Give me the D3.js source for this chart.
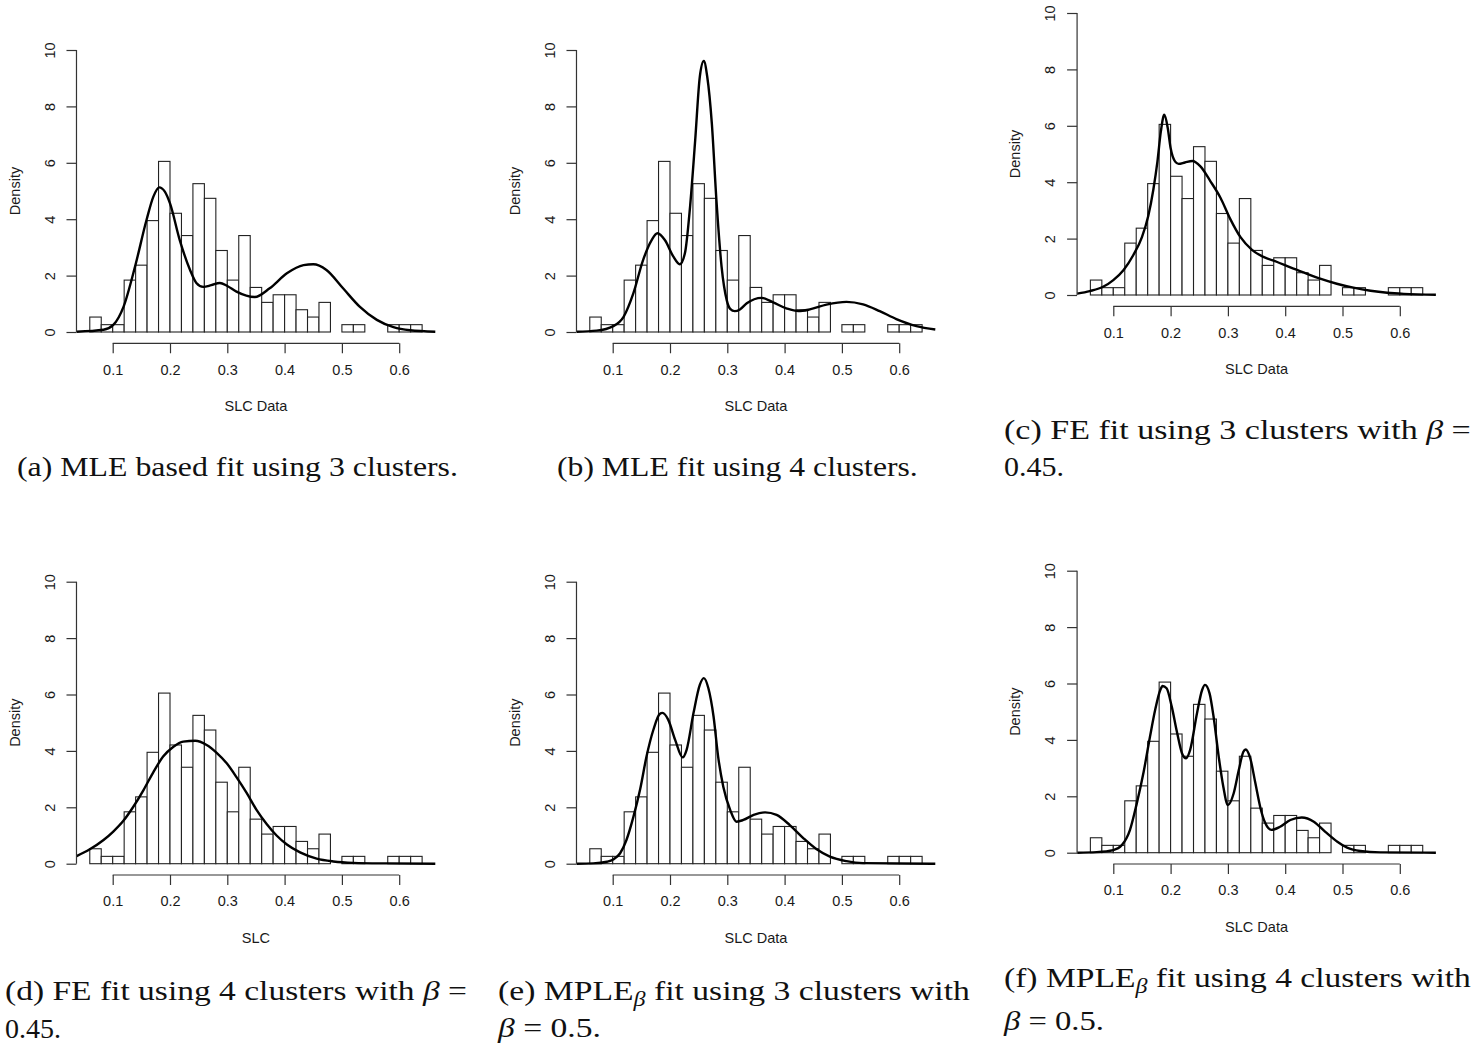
<!DOCTYPE html>
<html><head><meta charset="utf-8">
<script src="https://cdn.jsdelivr.net/npm/d3@7"></script>
<style>body{margin:0;background:#fff} svg{display:block}</style>
</head><body><svg id="c" width="1474" height="1046"></svg>
<script>
// ---------- data ----------
const binEdges = [0.06,0.08,0.10,0.12,0.14,0.16,0.18,0.20,0.22,0.24,0.26,0.28,0.30,0.32,0.34,0.36,0.38,0.40,0.42,0.44,0.46,0.48,0.50,0.52,0.54,0.56,0.58,0.60,0.62,0.64];
const densities = [0.53,0.26,0.26,1.84,2.37,3.95,6.05,4.21,3.42,5.26,4.74,2.89,1.84,3.42,1.58,1.05,1.32,1.32,0.79,0.53,1.05,0,0.26,0.26,0,0,0.26,0.26,0.26];
const xTicks = [0.1,0.2,0.3,0.4,0.5,0.6];
const xTickLabels = ["0.1","0.2","0.3","0.4","0.5","0.6"];
const yTicks = [0,2,4,6,8,10];
const yTickLabels = ["0","2","4","6","8","10"];

const curveA = [[0.037,0.01],[0.084,0.08],[0.101,0.25],[0.119,0.9],[0.139,2.32],[0.159,3.97],[0.171,4.8],[0.181,5.13],[0.191,4.98],[0.2,4.56],[0.217,3.26],[0.235,2.2],[0.246,1.74],[0.258,1.6],[0.272,1.66],[0.287,1.74],[0.3,1.63],[0.316,1.43],[0.348,1.24],[0.374,1.55],[0.404,2.08],[0.433,2.37],[0.45,2.4],[0.473,2.2],[0.502,1.55],[0.531,0.9],[0.561,0.43],[0.59,0.17],[0.619,0.06],[0.663,0.01]];
const curveB = [[0.037,0.01],[0.072,0.05],[0.101,0.21],[0.119,0.54],[0.136,1.37],[0.153,2.55],[0.168,3.26],[0.178,3.5],[0.191,3.26],[0.206,2.67],[0.217,2.4],[0.226,2.79],[0.235,4.44],[0.244,6.81],[0.252,9.05],[0.259,9.61],[0.265,9.05],[0.273,7.4],[0.281,4.68],[0.29,2.32],[0.299,1.13],[0.305,0.82],[0.313,0.74],[0.322,0.8],[0.334,1.02],[0.36,1.21],[0.38,1.05],[0.404,0.83],[0.424,0.74],[0.444,0.8],[0.473,0.97],[0.508,1.07],[0.537,0.98],[0.566,0.74],[0.595,0.46],[0.63,0.21],[0.663,0.09]];
const curveC = [[0.037,0.05],[0.059,0.14],[0.083,0.3],[0.1,0.53],[0.118,0.89],[0.135,1.42],[0.15,2.05],[0.161,2.8],[0.17,3.75],[0.177,4.73],[0.183,5.8],[0.189,6.39],[0.195,5.92],[0.2,5.21],[0.208,4.73],[0.214,4.65],[0.225,4.7],[0.238,4.75],[0.252,4.56],[0.269,4.05],[0.287,3.45],[0.304,2.7],[0.322,2.05],[0.342,1.6],[0.362,1.35],[0.386,1.17],[0.409,0.98],[0.432,0.8],[0.461,0.58],[0.49,0.4],[0.519,0.26],[0.549,0.15],[0.578,0.08],[0.607,0.04],[0.663,0.01]];
const curveD = [[0.037,0.27],[0.06,0.51],[0.084,0.84],[0.101,1.14],[0.119,1.53],[0.136,2.02],[0.154,2.62],[0.171,3.25],[0.188,3.8],[0.206,4.15],[0.223,4.33],[0.244,4.36],[0.264,4.21],[0.281,3.94],[0.299,3.56],[0.316,3.07],[0.334,2.5],[0.351,1.91],[0.369,1.4],[0.386,1.0],[0.404,0.68],[0.427,0.4],[0.456,0.18],[0.485,0.08],[0.52,0.03],[0.58,0.01],[0.663,0]];
const curveE = [[0.037,0],[0.066,0.01],[0.09,0.07],[0.101,0.15],[0.113,0.37],[0.124,0.84],[0.136,1.65],[0.148,2.65],[0.159,3.8],[0.171,4.75],[0.182,5.31],[0.187,5.35],[0.197,5.1],[0.209,4.39],[0.222,3.77],[0.229,4.04],[0.241,5.34],[0.252,6.34],[0.259,6.58],[0.267,6.22],[0.276,5.22],[0.284,3.8],[0.293,2.73],[0.305,1.91],[0.316,1.49],[0.328,1.55],[0.346,1.73],[0.366,1.82],[0.386,1.73],[0.409,1.37],[0.433,0.9],[0.456,0.51],[0.479,0.25],[0.508,0.09],[0.537,0.02],[0.663,0]];
const curveF = [[0.037,0],[0.071,0.02],[0.1,0.09],[0.115,0.27],[0.129,0.8],[0.141,1.75],[0.153,2.87],[0.164,4.11],[0.173,5.06],[0.182,5.77],[0.186,5.91],[0.193,5.83],[0.202,5.18],[0.211,4.29],[0.22,3.52],[0.227,3.35],[0.234,3.64],[0.246,4.94],[0.255,5.77],[0.26,5.95],[0.268,5.65],[0.275,4.82],[0.284,3.4],[0.292,2.34],[0.3,1.69],[0.31,2.1],[0.319,2.93],[0.327,3.58],[0.331,3.66],[0.339,3.35],[0.348,2.46],[0.357,1.57],[0.365,1.06],[0.376,0.81],[0.391,0.92],[0.409,1.16],[0.429,1.25],[0.45,1.1],[0.47,0.74],[0.491,0.39],[0.508,0.18],[0.531,0.06],[0.566,0.01],[0.663,0]];

const xLabels = ["SLC Data","SLC Data","SLC Data","SLC","SLC Data","SLC Data"];
const yLabel = "Density";

// ---------- layout ----------
const xUsr = [0.0368, 0.6632];
const yUsr = [-0.4, 10.4];
const PX_PER_X = 573;   // px per data unit along x
const PLOT_H10 = 282;   // px for 0..10 on y
const panels = [
  {curve: curveA, xlabel: xLabels[0], x01: 112.7, y0: 332},
  {curve: curveB, xlabel: xLabels[1], x01: 612.7, y0: 332},
  {curve: curveC, xlabel: xLabels[2], x01: 1113.3, y0: 295},
  {curve: curveD, xlabel: xLabels[3], x01: 112.7, y0: 863.7},
  {curve: curveE, xlabel: xLabels[4], x01: 612.7, y0: 863.7},
  {curve: curveF, xlabel: xLabels[5], x01: 1113.3, y0: 852.7}
];

const svg = d3.select("#c");
const SANS = "'Liberation Sans', Arial, Helvetica, sans-serif";
const TXT = "#1a1a1a";

panels.forEach(p => {
  const x = d3.scaleLinear().domain(xUsr)
    .range([p.x01 + (xUsr[0]-0.1)*PX_PER_X, p.x01 + (xUsr[1]-0.1)*PX_PER_X]);
  const yk = PLOT_H10/10;
  const y = d3.scaleLinear().domain(yUsr)
    .range([p.y0 - yUsr[0]*yk, p.y0 - yUsr[1]*yk]);
  const g = svg.append("g");

  // histogram bars
  g.append("g").selectAll("rect").data(densities).join("rect")
    .attr("x", (d,i) => x(binEdges[i]))
    .attr("width", (d,i) => x(binEdges[i+1]) - x(binEdges[i]))
    .attr("y", d => y(d))
    .attr("height", d => y(0) - y(d))
    .attr("fill", "#fff")
    .attr("stroke", "#222")
    .attr("stroke-width", 1.1);

  // density curve
  const line = d3.line().x(d => x(d[0])).y(d => y(d[1])).curve(d3.curveMonotoneX);
  g.append("path").datum(p.curve).attr("d", line)
    .attr("fill", "none").attr("stroke", "#000").attr("stroke-width", 2.4)
    .attr("stroke-linejoin", "round");

  // x axis
  const gx = g.append("g").attr("transform", `translate(0,${y(yUsr[0])})`)
    .call(d3.axisBottom(x).tickValues(xTicks).tickFormat((d,i) => xTickLabels[i])
      .tickSize(10).tickPadding(11).tickSizeOuter(0));
  gx.select(".domain").remove();
  gx.append("line").attr("x1", x(xTicks[0])).attr("x2", x(xTicks[xTicks.length-1]))
    .attr("stroke", "#333").attr("stroke-width", 1.2);
  gx.selectAll(".tick line").attr("stroke", "#333").attr("stroke-width", 1.2);
  gx.selectAll(".tick text").attr("font-family", SANS).attr("font-size", 14.5).attr("fill", TXT);

  // y axis
  const gy = g.append("g").attr("transform", `translate(${x(xUsr[0])},0)`)
    .call(d3.axisLeft(y).tickValues(yTicks).tickFormat((d,i) => yTickLabels[i])
      .tickSize(10).tickSizeOuter(0));
  gy.select(".domain").remove();
  gy.append("line").attr("y1", y(yTicks[0])).attr("y2", y(yTicks[yTicks.length-1]))
    .attr("stroke", "#333").attr("stroke-width", 1.2);
  gy.selectAll(".tick line").attr("stroke", "#333").attr("stroke-width", 1.2);
  gy.selectAll(".tick text")
    .attr("x", null).attr("dy", null)
    .attr("text-anchor", "middle").attr("dominant-baseline", "central")
    .attr("transform", "translate(-26.7,0) rotate(-90)")
    .attr("font-family", SANS).attr("font-size", 14.5).attr("fill", TXT);

  // axis titles
  g.append("text").attr("x", x(0.35)).attr("y", p.y0 + 74)
    .attr("text-anchor", "middle").attr("dominant-baseline", "central")
    .attr("font-family", SANS).attr("font-size", 14.5).attr("fill", TXT)
    .text(p.xlabel);
  g.append("text").attr("transform", `translate(${x(xUsr[0]) - 61.7},${y(5)}) rotate(-90)`)
    .attr("text-anchor", "middle").attr("dominant-baseline", "central")
    .attr("font-family", SANS).attr("font-size", 14.5).attr("fill", TXT)
    .text(yLabel);
});

// ---------- captions ----------
const SERIF = "'Liberation Serif', 'Times New Roman', serif";
const B = {t: "\u03B2", it: true};
const Bs = {t: "\u03B2", it: true, sub: true};
const captions = [
  {x1: 17, x2: 458, base: 476, parts: [{t: "(a) MLE based fit using 3 clusters."}]},
  {x1: 557, x2: 918, base: 476, parts: [{t: "(b) MLE fit using 4 clusters."}]},
  {x1: 1004, x2: 1471, base: 439, parts: [{t: "(c) FE fit using 3 clusters with "}, B, {t: " ="}]},
  {x1: 1004, x2: 1064, base: 476, parts: [{t: "0.45."}]},
  {x1: 5, x2: 467, base: 1000, parts: [{t: "(d) FE fit using 4 clusters with "}, B, {t: " ="}]},
  {x1: 5, x2: 61, base: 1038, parts: [{t: "0.45."}]},
  {x1: 498, x2: 970, base: 1000, parts: [{t: "(e) MPLE"}, Bs, {t: " fit using 3 clusters with"}]},
  {x1: 498, x2: 601, base: 1037, parts: [B, {t: " = 0.5."}]},
  {x1: 1004, x2: 1471, base: 987, parts: [{t: "(f) MPLE"}, Bs, {t: " fit using 4 clusters with"}]},
  {x1: 1004, x2: 1104, base: 1030, parts: [B, {t: " = 0.5."}]}
];

captions.forEach(c => {
  const t = svg.append("text").attr("font-family", SERIF).attr("font-size", 28)
    .attr("fill", "#111").attr("xml:space", "preserve");
  let shifted = false;
  c.parts.forEach(pt => {
    const ts = t.append("tspan").text(pt.t);
    if (pt.it) ts.attr("font-style", "italic");
    if (pt.sub) { ts.attr("font-size", 20).attr("dy", 6); shifted = true; }
    else if (shifted) { ts.attr("dy", -6); shifted = false; }
  });
  const w = t.node().getComputedTextLength();
  const s = (c.x2 - c.x1) / w;
  t.attr("transform", `translate(${c.x1},${c.base}) scale(${s},1)`);
});
</script>
</body></html>
